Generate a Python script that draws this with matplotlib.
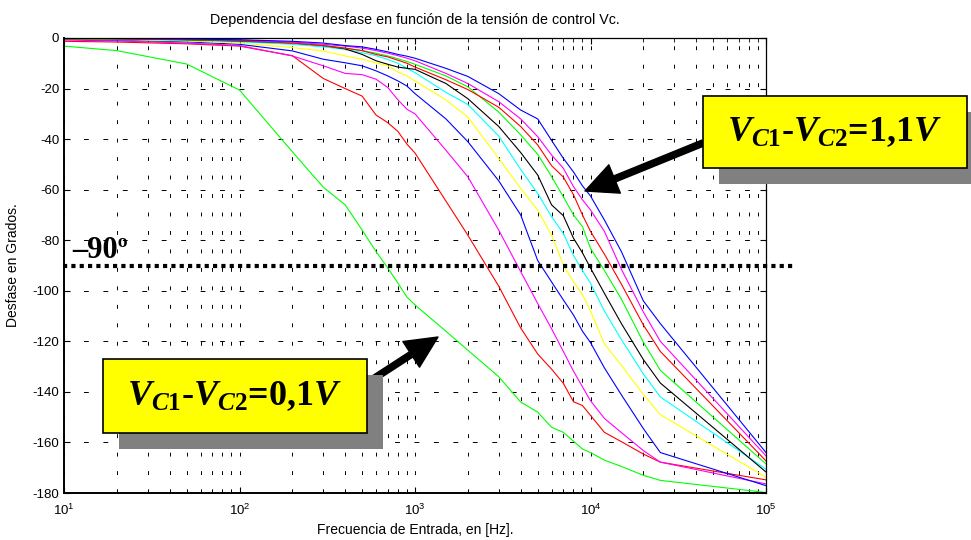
import matplotlib
matplotlib.use("Agg")
import matplotlib.pyplot as plt
from matplotlib import patches
import numpy as np

plt.rcParams['font.family'] = ['Liberation Sans', 'DejaVu Sans']
plt.rcParams['axes.unicode_minus'] = False
plt.rcParams['mathtext.fontset'] = 'custom'
plt.rcParams['mathtext.rm'] = 'Liberation Serif:bold'
plt.rcParams['mathtext.it'] = 'Liberation Serif:italic:bold'
plt.rcParams['mathtext.bf'] = 'Liberation Serif:bold'

# frequency points (Hz)
freq = [10, 20, 50, 100, 200, 300, 400, 500, 600, 700, 800, 900, 1e3, 1.5e3,
        2e3, 3e3, 4e3, 5e3, 6e3, 7e3, 8e3, 9e3, 1e4, 1.2e4, 1.5e4, 2e4, 2.5e4, 1e5]

# phase (degrees) for Vc1-Vc2 = 0.1 ... 1.1 V
ph_01 = [-3.2, -5, -10.3, -20.6, -45, -59, -66, -76, -84.5, -91, -97, -102.5, -105.6, -116,
         -123.5, -134, -144, -148, -154, -156, -159.5, -162.6, -164, -167, -169.5, -173, -175, -179.8]
ph_02 = [-1.3, -1.6, -2.3, -3.2, -7, -16, -20, -23, -30.5, -33.5, -37, -42, -45.5, -64.5,
         -78, -98.2, -114.7, -125, -131, -136.6, -143.9, -145.4, -149.3, -156, -159.7, -164.6, -167.8, -174.8]
ph_03 = [-0.8, -1.2, -2, -3, -7.1, -11, -14, -14.5, -16.3, -19.6, -24.5, -28.2, -30, -44.4,
         -54.9, -76, -92.4, -105, -115, -124, -131.8, -138, -143.5, -150.5, -156.1, -163.2, -167.8, -176.4]
ph_04 = [-0.5, -0.8, -1.5, -2.5, -5.1, -8.4, -9.8, -11, -13, -15, -17, -19, -22, -32,
         -41, -56.5, -70, -88, -96.5, -103.6, -109.6, -116, -120.5, -130.5, -141.2, -154.5, -164, -177.1]
ph_05 = [-0.3, -0.6, -1.2, -2, -3.8, -5.1, -7.1, -8.4, -9.8, -11, -13.5, -15, -17, -24.5,
         -31.3, -47.6, -59.5, -68, -78, -89.8, -96.5, -101.5, -108, -121, -129.5, -141, -149, -173.8]
ph_06 = [-0.2, -0.4, -0.9, -1.5, -2.5, -3.5, -4.5, -5.8, -7, -8.5, -10, -12, -13.7, -21.5,
         -26.3, -38.8, -52, -61.5, -70.7, -77.3, -86, -92, -97, -108, -119.3, -132.9, -142, -170.6]
ph_07 = [-0.2, -0.3, -0.7, -1.2, -2, -3, -4.3, -6.5, -9, -10.4, -11.5, -12, -12.4, -18,
         -24, -35, -45.3, -54.2, -66, -70.3, -79.2, -85, -91, -101, -113, -127.2, -136.5, -171.7]
ph_08 = [-0.2, -0.3, -0.6, -1, -2, -3, -4, -5, -6, -7.1, -8.2, -9.3, -10.4, -15,
         -19.3, -29.3, -38.3, -46, -54.8, -62.8, -70, -74.6, -83.2, -92, -103.3, -120.3, -131.5, -168.5]
ph_09 = [-0.2, -0.3, -0.6, -1, -2, -3, -4, -5, -6.5, -7.5, -8.8, -10, -11.5, -16.5,
         -20.4, -27.4, -35, -42.3, -50.5, -55, -62, -70, -76.5, -85.5, -97.4, -113.5, -124, -167.3]
ph_10 = [-0.1, -0.2, -0.5, -0.8, -1.6, -2.5, -3.2, -4, -5, -6, -7, -8, -9, -14,
         -18, -25.2, -32, -39, -46.3, -51.5, -58.8, -64, -68, -76.5, -91.5, -108.4, -120, -165.3]
ph_11 = [-0.1, -0.2, -0.4, -0.7, -1.3, -2, -3, -3.5, -4.5, -5.5, -6.5, -7.2, -8, -12,
         -15.2, -22, -28.5, -32, -40.5, -47.6, -53, -58.5, -62.5, -72, -84.5, -104, -113, -164]

curves = [ph_01, ph_02, ph_03, ph_04, ph_05, ph_06, ph_07, ph_08, ph_09, ph_10, ph_11]
colors = ['#00ff00', '#ff0000', '#ff00ff', '#0000ff', '#ffff00', '#00ffff',
          '#000000', '#00ff00', '#ff0000', '#ff00ff', '#0000ff']

W, H = 971, 540
def fx(x):
    return x / W
def fy(y):
    return 1 - y / H

fig = plt.figure(figsize=(W / 100, H / 100), dpi=100)
ax = fig.add_axes([fx(64), fy(493), 702 / W, 455 / H])

for ph, c in zip(curves, colors):
    ax.semilogx(freq, ph, color=c, lw=0.8)

ax.set_xlim(10, 1e5)
ax.set_ylim(-180, 0)
ax.set_yticks(np.arange(-180, 1, 20))
ax.xaxis.set_minor_formatter(matplotlib.ticker.NullFormatter())

ax.grid(True, which='major', axis='y', color='black', lw=0.7, ls=(0, (5, 15)))
ax.grid(True, which='both', axis='x', color='black', lw=0.7, ls=(0, (4, 15)))

ax.tick_params(which='both', direction='in', top=True, right=True, labelsize=9.5)
ax.tick_params(axis='x', which='major', pad=7)
ax.tick_params(which='major', length=4)
ax.tick_params(which='minor', length=3)
for s in ax.spines.values():
    s.set_linewidth(0.9)
ax.spines['left'].set_linewidth(1.4)
ax.spines['bottom'].set_linewidth(1.4)

ax.set_xlabel("Frecuencia de Entrada, en [Hz].", fontsize=10)
ax.xaxis.set_label_coords(0.5, -0.066)
ax.set_ylabel("Desfase en Grados.", fontsize=10)
ax.yaxis.set_label_coords(-0.062, 0.5)
fig.text(fx(415), fy(20), "Dependencia del desfase en función de la tensión de control Vc.",
         ha='center', va='center', fontsize=10.3)

# -90 degree reference line
ax.axhline(-90, xmin=-0.002, xmax=1.04, color='black', lw=3, ls=(0, (1, 1)), clip_on=False, zorder=5)
fig.text(fx(72), fy(250), "–90º", fontfamily='Liberation Serif', fontweight='bold',
         fontsize=22, ha='left', va='center')

# label boxes with shadows and arrows
boxes = [((103, 359, 264, 74), r"$V_{C1}$-$V_{C2}$=0,1$V$", (367, 383), (438, 337)),
         ((703, 96, 264, 72), r"$V_{C1}$-$V_{C2}$=1,1$V$", (703, 143), (585, 191))]
for (bx, by, bw, bh), txt, tail, tip in boxes:
    fig.add_artist(patches.Rectangle((fx(bx + 16), fy(by + bh + 16)), bw / W, bh / H,
                                     transform=fig.transFigure, fc='#808080', ec='none', zorder=6))
    ax.annotate('', xy=(fx(tip[0]), fy(tip[1])), xycoords='figure fraction',
                xytext=(fx(tail[0]), fy(tail[1])), textcoords='figure fraction',
                arrowprops=dict(arrowstyle='simple,head_length=2.3,head_width=2.2,tail_width=0.45',
                                fc='black', ec='black', mutation_scale=10, shrinkA=0, shrinkB=0),
                annotation_clip=False, zorder=7)
    fig.add_artist(patches.Rectangle((fx(bx), fy(by + bh)), bw / W, bh / H,
                                     transform=fig.transFigure, fc='#ffff00', ec='black', lw=1.2, zorder=8))
    fig.text(fx(bx + bw / 2), fy(by + bh / 2), txt, fontfamily='Liberation Serif', fontweight='bold',
             fontsize=26, ha='center', va='center', zorder=9)

fig.savefig("out.png", dpi=100)
